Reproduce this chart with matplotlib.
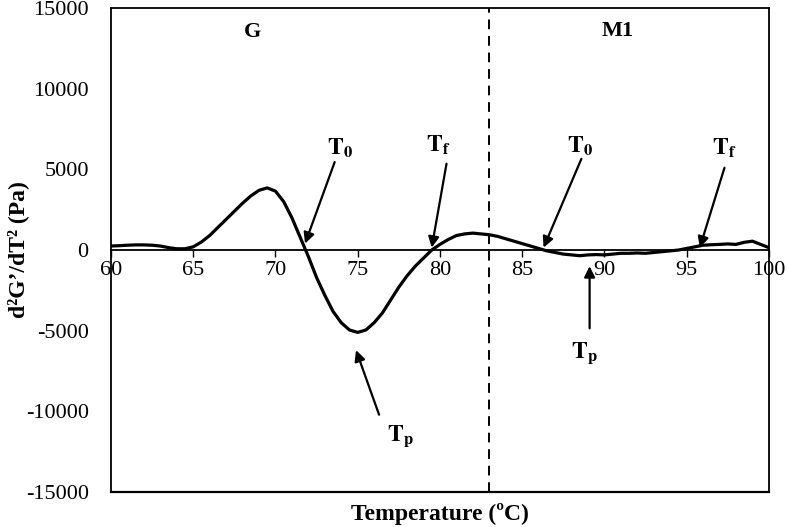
import numpy as np
import matplotlib
matplotlib.use('Agg')
import matplotlib.pyplot as plt

plt.rcParams['font.family'] = 'Liberation Serif'
plt.rcParams['mathtext.fontset'] = 'stix'
plt.rcParams['axes.unicode_minus'] = False

# second derivative of G' (Pa), 0.5 degC steps
temp = np.arange(60, 100.01, 0.5)
d2g = [250, 270, 300, 320, 320, 300, 250, 150, 80, 80,
       200, 500, 900, 1400, 1900, 2400, 2900, 3350, 3700, 3850,
       3650, 3000, 2000, 800, -400, -1700, -2800, -3800, -4500, -4950,
       -5100, -4950, -4500, -3900, -3100, -2300, -1600, -1000, -500, 0,
       350, 650, 900, 1000, 1050, 1000, 950, 850, 700, 550,
       400, 250, 100, -50, -150, -250, -300, -350, -300, -280,
       -300, -250, -200, -200, -180, -200, -150, -100, -50, 0,
       100, 200, 300, 330, 350, 380, 350, 480, 550, 350,
       150]

split_temp = 83

# annotations: label, text position, arrow tail, arrow head
labels = [r'$\mathbf{T_0}$', r'$\mathbf{T_f}$', r'$\mathbf{T_p}$',
          r'$\mathbf{T_0}$', r'$\mathbf{T_f}$', r'$\mathbf{T_p}$']
text_pos = [(73.9, 6300), (79.9, 6500), (77.6, -11500),
            (88.5, 6400), (97.3, 6300), (88.8, -6400)]
tails = [(73.6, 5450), (80.4, 5350), (76.3, -10200),
         (88.6, 5650), (97.3, 5100), (89.1, -4850)]
heads = [(71.8, 400), (79.5, 150), (74.9, -6200),
         (86.3, 150), (95.8, 150), (89.1, -1000)]

f, ax = plt.subplots(figsize=(7.87, 5.27), dpi=100)
f.subplots_adjust(left=0.141, right=0.977, bottom=0.066, top=0.985)

ax.plot(temp, d2g, color='black', linewidth=2.3)
ax.axvline(split_temp, color='black', linewidth=1.4, linestyle=(0, (5, 3.5)))

for lab, tp, tl, hd in zip(labels, text_pos, tails, heads):
    ax.annotate('', xy=hd, xytext=tl,
                arrowprops=dict(arrowstyle='-|>', color='black', lw=1.6,
                                mutation_scale=16, shrinkA=0, shrinkB=0))
    ax.text(tp[0], tp[1], lab, fontsize=17, ha='center', va='center')

ax.text(68.6, 13500, 'G', fontsize=16, fontweight='bold', ha='center', va='center')
ax.text(90.8, 13600, 'M1', fontsize=16, fontweight='bold', ha='center', va='center')

ax.set_xlim(60, 100)
ax.set_ylim(-15000, 15000)
ax.set_xticks(np.arange(60, 101, 5))
ax.set_yticks(np.arange(-15000, 15001, 5000))

# x axis runs through zero, keep a box line at the bottom
ax.spines['bottom'].set_position(('data', 0))
ax.axhline(-15000, color='black', linewidth=1.6, clip_on=False)
for s in ax.spines.values():
    s.set_linewidth(1.3)
ax.tick_params(axis='x', direction='out', length=5, width=1, pad=3, labelsize=16)
ax.tick_params(axis='y', length=0, pad=16, labelsize=16)

ax.set_xlabel('Temperature (ºC)', fontsize=17, fontweight='bold')
ax.xaxis.set_label_coords(0.5, -0.022)
ax.set_ylabel('d²G’/dT² (Pa)', fontsize=17, fontweight='bold')
ax.yaxis.set_label_coords(-0.125, 0.5)

f.savefig('out.png', dpi=100)
